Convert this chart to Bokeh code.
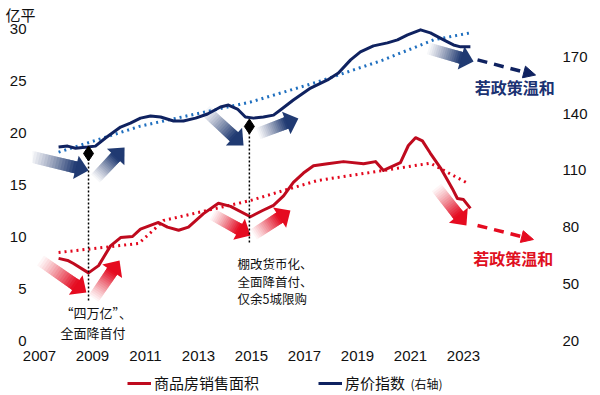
import math
from bokeh.plotting import figure
from bokeh.layouts import column
from bokeh.models import (Range1d, LinearAxis, FixedTicker, Legend, LegendItem,
                          Label, Arrow, NormalHead)
from bokeh.core.properties import value
from bokeh.embed import file_html
from bokeh.resources import INLINE

# ---------------- data ----------------
x_ticks = [2007, 2009, 2011, 2013, 2015, 2017, 2019, 2021, 2023]
left_ticks = [0, 5, 10, 15, 20, 25, 30]
right_ticks = [20, 50, 80, 110, 140, 170]

# 商品房销售面积 (亿平, left axis)
sales_years = [2007.72, 2008.06, 2008.28, 2008.85, 2009.23, 2009.68, 2010.06, 2010.51,
               2010.81, 2011.49, 2011.83, 2012.25, 2012.62, 2013.19, 2013.75, 2014.21,
               2014.96, 2015.42, 2015.83, 2016.21, 2016.58, 2016.96, 2017.34, 2017.87,
               2018.47, 2019.23, 2019.68, 2019.98, 2020.62, 2020.92, 2021.19, 2021.45,
               2021.75, 2022.13, 2022.40, 2022.58, 2022.77, 2023.00, 2023.26]
sales_area = [7.9, 7.7, 7.4, 6.5, 7.2, 9.1, 9.9, 10.0,
              10.7, 11.35, 10.9, 10.6, 10.9, 12.2, 13.2, 12.9,
              11.9, 12.5, 13.0, 13.9, 15.2, 16.1, 16.8, 17.0,
              17.2, 17.0, 17.2, 16.35, 17.1, 18.75, 19.5, 19.2,
              18.0, 16.6, 15.4, 14.6, 13.65, 13.55, 12.7]

# 房价指数 (right axis)
price_years = [2007.72, 2008.06, 2008.36, 2008.81, 2009.11, 2009.49, 2010.06, 2010.43,
               2010.81, 2011.19, 2011.57, 2012.06, 2012.43, 2012.89, 2013.34, 2013.83,
               2014.13, 2014.47, 2014.77, 2015.08, 2015.45, 2015.83, 2016.09, 2016.58,
               2017.23, 2017.87, 2018.28, 2018.74, 2019.11, 2019.60, 2020.13, 2020.51,
               2020.89, 2021.38, 2021.75, 2022.25, 2022.62, 2022.89, 2023.26]
price_index = [122.3, 122.8, 121.7, 122.3, 122.8, 127.1, 132.9, 135.0,
               137.6, 138.7, 138.2, 136.1, 136.1, 137.6, 139.8, 143.5,
               144.5, 142.4, 138.2, 137.6, 138.2, 139.2, 141.9, 147.2,
               153.5, 157.8, 161.5, 168.4, 172.6, 175.8, 177.4, 179.0,
               181.6, 184.3, 182.7, 179.0, 176.3, 175.3, 175.3]

# dotted trend lines
sales_trend_years = [2007.72, 2010.74, 2011.49, 2011.68, 2014.96, 2016.21, 2017.49,
                     2018.74, 2019.98, 2021.75, 2023.15]
sales_trend = [8.46, 9.33, 11.06, 11.54, 13.46, 14.42, 15.38, 15.87, 16.35, 17.05, 15.13]
price_trend_years = [2007.72, 2010.81, 2014.96, 2017.49, 2019.98, 2021.87, 2023.26]
price_trend = [119.6, 133.4, 146.1, 156.7, 168.4, 179.0, 182.7]

# dashed projections "若政策温和"
sales_proj_years = [2023.53, 2025.64]
sales_proj = [11.06, 9.71]
price_proj_years = [2023.53, 2025.72]
price_proj = [168.4, 160.4]
scenario_text = "若政策温和"

# policy events (left-axis units)
event_years = [2008.85, 2014.92]
event_level = [17.98, 20.58]
event_floor = [3.85, 9.42]
event1_lines = ["\u201c四万亿\u201d、", "全面降首付"]
event2_lines = ["棚改货币化、", "全面降首付、", "仅余5城限购"]

# trend arrows (tail -> tip, left-axis units)
blue_arrow_x0 = [2006.66, 2009.11, 2013.26, 2015.26, 2021.68]
blue_arrow_y0 = [17.69, 15.58, 22.12, 19.90, 28.08]
blue_arrow_x1 = [2008.85, 2010.21, 2014.70, 2016.77, 2023.38]
blue_arrow_y1 = [16.35, 18.56, 18.75, 21.35, 26.83]
red_arrow_x0 = [2007.04, 2009.04, 2013.53, 2015.08, 2021.98]
red_arrow_y0 = [7.69, 4.04, 12.12, 10.19, 14.71]
red_arrow_x1 = [2008.77, 2010.02, 2014.96, 2016.47, 2023.11]
red_arrow_y1 = [4.62, 7.69, 10.10, 12.50, 11.06]

series_names = ["商品房销售面积", "房价指数"]
right_axis_note = "(右轴)"
unit_text = "亿平"

# ---------------- layout ----------------
ML, MR, MT, MB = 32, 44, 24, 30
FW, FH = 524, 316
LEG_H = 25
X0 = 2006.736
X1 = X0 + FW / 26.5
Y1 = FH / 10.4
SX = FW / (X1 - X0)
SY = FH / Y1

RED = "#bf0a1e"
RED_DOT = "#e3061c"
RED_ARROW = "#e50b20"
NAVY = "#0f2260"
BLUE_DOT = "#1f6fbf"
BLUE_ARROW = "#203a72"
CJK = "Noto Sans CJK SC"
NUM = "Liberation Sans"

p = figure(frame_width=FW, frame_height=FH, x_range=Range1d(X0, X1), y_range=Range1d(0, Y1),
           output_backend="svg", toolbar_location=None,
           min_border_left=ML, min_border_right=MR, min_border_top=MT,
           min_border_bottom=MB)
p.title.text = unit_text
p.title.align = "left"
p.title.offset = -27
p.title.standoff = 0
p.title.text_font = CJK
p.title.text_font_size = "15px"
p.title.text_font_style = "normal"
p.title.text_color = "#111111"
p.extra_y_ranges = {"right": Range1d(20, 20 + 5.5 * Y1)}
p.outline_line_color = None
p.grid.visible = False
p.background_fill_color = "white"
p.border_fill_color = "white"

right_axis = LinearAxis(y_range_name="right")
p.add_layout(right_axis, "right")

p.xaxis.ticker = FixedTicker(ticks=x_ticks)
p.yaxis[0].ticker = FixedTicker(ticks=left_ticks)
right_axis.ticker = FixedTicker(ticks=right_ticks)
for ax in [p.xaxis[0], p.yaxis[0], right_axis]:
    ax.axis_line_color = None
    ax.major_tick_line_color = None
    ax.minor_tick_line_color = None
    ax.major_tick_out = 0
    ax.major_tick_in = 0
    ax.major_label_text_font = NUM
    ax.major_label_text_font_size = "15px"
    ax.major_label_text_color = "#111111"
    ax.major_label_standoff = 6
p.xaxis[0].major_label_standoff = 10


# ---------------- gradient arrows ----------------
def gradient_arrow(x0, y0, x1, y1, color, shaft=12.0, head_w=24.0, head_l=13.0, n=16):
    ax, ay = (x0 - X0) * SX, y0 * SY
    bx, by = (x1 - X0) * SX, y1 * SY
    dx, dy = bx - ax, by - ay
    L = math.hypot(dx, dy)
    ux, uy = dx / L, dy / L
    nx, ny = -uy, ux
    base = L - head_l
    end = base + head_l * 0.4
    xs, ys, alphas = [], [], []
    prev = 0.0
    for k in range(n):
        target = 0.97 * ((k + 1) / n) ** 1.15
        a = 1 - (1 - target) / (1 - prev)
        prev = target
        t0 = base * k / n
        pts = []
        for t, s in [(t0, -1), (end, -1), (end, 1), (t0, 1)]:
            px = ax + ux * t + nx * s * shaft / 2
            py = ay + uy * t + ny * s * shaft / 2
            pts.append((px / SX + X0, py / SY))
        xs.append([q[0] for q in pts])
        ys.append([q[1] for q in pts])
        alphas.append(a)
    head = []
    for t, s in [(base, -1), (L, 0), (base, 1)]:
        px = ax + ux * t + nx * s * head_w / 2
        py = ay + uy * t + ny * s * head_w / 2
        head.append((px / SX + X0, py / SY))
    xs.append([q[0] for q in head])
    ys.append([q[1] for q in head])
    alphas.append(1.0)
    p.patches(xs=xs, ys=ys, fill_color=color, fill_alpha=alphas, line_color=None)


for i in range(len(blue_arrow_x0)):
    gradient_arrow(blue_arrow_x0[i], blue_arrow_y0[i], blue_arrow_x1[i], blue_arrow_y1[i], BLUE_ARROW)
for i in range(len(red_arrow_x0)):
    gradient_arrow(red_arrow_x0[i], red_arrow_y0[i], red_arrow_x1[i], red_arrow_y1[i], RED_ARROW)

# ---------------- series ----------------
p.line(sales_trend_years, sales_trend, line_color=RED_DOT, line_width=3, line_dash="2 4")
p.line(price_trend_years, price_trend, line_color=BLUE_DOT, line_width=3, line_dash="2 4",
       y_range_name="right")
p.line(sales_years, sales_area, line_color=RED, line_width=3, line_join="round")
p.line(price_years, price_index, line_color=NAVY, line_width=3, line_join="round",
       y_range_name="right")

# projections
p.add_layout(Arrow(x_start=sales_proj_years[0], y_start=sales_proj[0],
                   x_end=sales_proj_years[1], y_end=sales_proj[1],
                   line_color=RED_ARROW, line_width=3.5, line_dash="10 7",
                   end=NormalHead(size=12, fill_color=RED_ARROW, line_color=RED_ARROW)))
p.add_layout(Arrow(x_start=price_proj_years[0], y_start=price_proj[0],
                   x_end=price_proj_years[1], y_end=price_proj[1], y_range_name="right",
                   line_color=NAVY, line_width=3.5, line_dash="10 7",
                   end=NormalHead(size=12, fill_color=NAVY, line_color=NAVY)))
p.add_layout(Label(x=2024.93, y=24.33, text=scenario_text, text_font=CJK,
                   text_font_size="16px", text_font_style="bold", text_color="#1a3272",
                   text_align="center", text_baseline="middle"))
p.add_layout(Label(x=2024.88, y=7.98, text=scenario_text, text_font=CJK,
                   text_font_size="16px", text_font_style="bold", text_color="#e0101f",
                   text_align="center", text_baseline="middle"))

# events
p.segment(x0=event_years, y0=event_floor, x1=event_years, y1=event_level,
          line_color="black", line_width=1.5, line_dash="2 2")
p.scatter(event_years, event_level, marker="diamond", size=15, color="black")

p.text(x=[2007.79] * 2, y=[2.69, 0.77], text=event1_lines, text_font=value(CJK),
       text_font_size="13px", text_color="#111111", text_align="left", text_baseline="middle")
p.text(x=[2014.47] * 3, y=[7.40, 5.72, 4.04], text=event2_lines, text_font=value(CJK),
       text_font_size="12.5px", text_color="#111111", text_align="left", text_baseline="middle")

# ---------------- legend strip (frame aligned with the main frame) ----------------
lg = figure(width=FW + ML + MR, height=LEG_H, x_range=Range1d(ML, ML + FW),
            y_range=Range1d(0, LEG_H), output_backend="svg", toolbar_location=None,
            x_axis_type=None, y_axis_type=None, title=None,
            min_border_left=ML, min_border_right=MR, min_border_top=0, min_border_bottom=0)
lg.outline_line_color = None
lg.grid.visible = False
lg.background_fill_color = "white"
lg.border_fill_color = "white"
nan = float("nan")
r_sales = lg.line([nan, nan], [nan, nan], line_color=RED, line_width=3)
r_price = lg.line([nan, nan], [nan, nan], line_color=NAVY, line_width=3)
legend = Legend(items=[LegendItem(label=series_names[0], renderers=[r_sales]),
                       LegendItem(label=series_names[1], renderers=[r_price])],
                orientation="horizontal", location=(127 - ML, 2),
                label_text_font=CJK, label_text_font_size="15px", label_text_color="#111111",
                glyph_width=24, glyph_height=16, label_height=16, label_standoff=3,
                spacing=59, padding=0, margin=0, border_line_color=None,
                background_fill_alpha=0)
lg.add_layout(legend, "center")
lg.add_layout(Label(x=410, y=12, text=right_axis_note, text_font=CJK, text_font_size="12px",
                    text_color="#111111", text_align="left", text_baseline="middle"))

open("out.html", "w").write(file_html(column(p, lg, spacing=0), INLINE))
